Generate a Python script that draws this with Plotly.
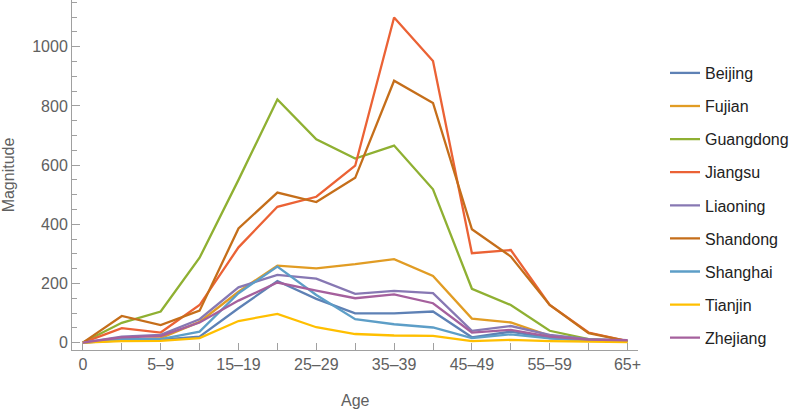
import plotly.graph_objects as go

ages = ["0", "1–4", "5–9", "10–14", "15–19", "20–24", "25–29", "30–34",
        "35–39", "40–44", "45–49", "50–54", "55–59", "60–64", "65+"]
tick_labels = ["0", "", "5–9", "", "15–19", "", "25–29", "", "35–39", "",
               "45–49", "", "55–59", "", "65+"]

beijing   = [0, 8, 10, 20, 116, 208, 148, 99, 99, 105, 18, 37, 15, 8, 5]
fujian    = [0, 9, 15, 70, 172, 260, 251, 265, 282, 225, 81, 68, 23, 10, 5]
guangdong = [0, 67, 105, 287, 550, 822, 687, 622, 666, 518, 182, 127, 40, 12, 5]
jiangsu   = [0, 49, 34, 127, 322, 459, 493, 598, 1099, 952, 302, 313, 127, 34, 5]
liaoning  = [0, 20, 26, 79, 187, 229, 216, 165, 175, 167, 40, 56, 26, 12, 8]
shandong  = [0, 90, 59, 108, 386, 507, 475, 557, 885, 810, 383, 291, 127, 32, 5]
shanghai  = [0, 12, 12, 37, 167, 257, 161, 79, 62, 51, 15, 28, 14, 7, 4]
tianjin   = [0, 5, 6, 15, 73, 97, 52, 29, 24, 23, 5, 9, 5, 3, 2]
zhejiang  = [0, 18, 22, 68, 142, 203, 176, 150, 163, 133, 34, 43, 20, 10, 8]

series = [
    ("Beijing", beijing, "#5E81B5"),
    ("Fujian", fujian, "#E19C24"),
    ("Guangdong", guangdong, "#8FB032"),
    ("Jiangsu", jiangsu, "#EB6235"),
    ("Liaoning", liaoning, "#8778B3"),
    ("Shandong", shandong, "#C56E1A"),
    ("Shanghai", shanghai, "#5D9EC7"),
    ("Tianjin", tianjin, "#FFBF00"),
    ("Zhejiang", zhejiang, "#A5609D"),
]

W, H = 800, 409
ML, MR, MT, MB = 72, 162, 0, 59
pw, ph = W - ML - MR, H - MT - MB

legend_font = dict(family="Liberation Sans, Arial", size=16, color="#222222")
fig = go.Figure()
legends = {}
for i, (name, vals, col) in enumerate(series):
    key = "legend" if i == 0 else f"legend{i + 1}"
    fig.add_trace(go.Scatter(x=list(range(len(ages))), y=vals, mode="lines", name=name,
                             legend=key, line=dict(color=col, width=2.3)))
    ypx = 73 + i * 33.1
    legends[key] = dict(x=(665 - ML) / pw, y=1 - (ypx - MT) / ph,
                        xanchor="left", yanchor="middle",
                        font=legend_font, bgcolor="rgba(0,0,0,0)", borderwidth=0)

axis_col = "#a0a0a0"
label_col = "#606060"
tick_font = dict(family="Liberation Sans, Arial", size=16, color=label_col)

fig.update_layout(
    width=W, height=H,
    margin=dict(l=ML, r=MR, t=MT, b=MB),
    paper_bgcolor="white", plot_bgcolor="white",
    showlegend=True,
    xaxis=dict(
        range=[-0.28, 14.27], tickmode="array", automargin=False,
        tickvals=list(range(len(ages))), ticktext=tick_labels,
        ticks="inside", ticklen=7, tickcolor=axis_col, tickwidth=1,
        showline=True, linecolor=axis_col, linewidth=1,
        showgrid=False, zeroline=False, tickfont=tick_font,
    ),
    yaxis=dict(
        range=[-25, 1158], tickvals=[0, 200, 400, 600, 800, 1000], automargin=False,
        ticks="inside", ticklen=8, tickcolor=axis_col, tickwidth=1,
        minor=dict(dtick=50, tick0=0, ticks="inside", ticklen=5, tickcolor=axis_col),
        showline=True, linecolor=axis_col, linewidth=1,
        showgrid=False, zeroline=False, tickfont=tick_font,
        title=dict(text="Magnitude", font=dict(family="Liberation Sans, Arial", size=16, color=label_col)),
    ),
    annotations=[dict(text="Age", xref="paper", yref="paper", x=0.5, y=-(400 - ph) / ph,
                      xanchor="center", yanchor="middle", showarrow=False,
                      font=dict(family="Liberation Sans, Arial", size=16, color=label_col))],
)
fig.update_layout(**legends)

fig.write_html("out.html", config={"displayModeBar": False},
               post_script="document.body.style.margin='0';")
